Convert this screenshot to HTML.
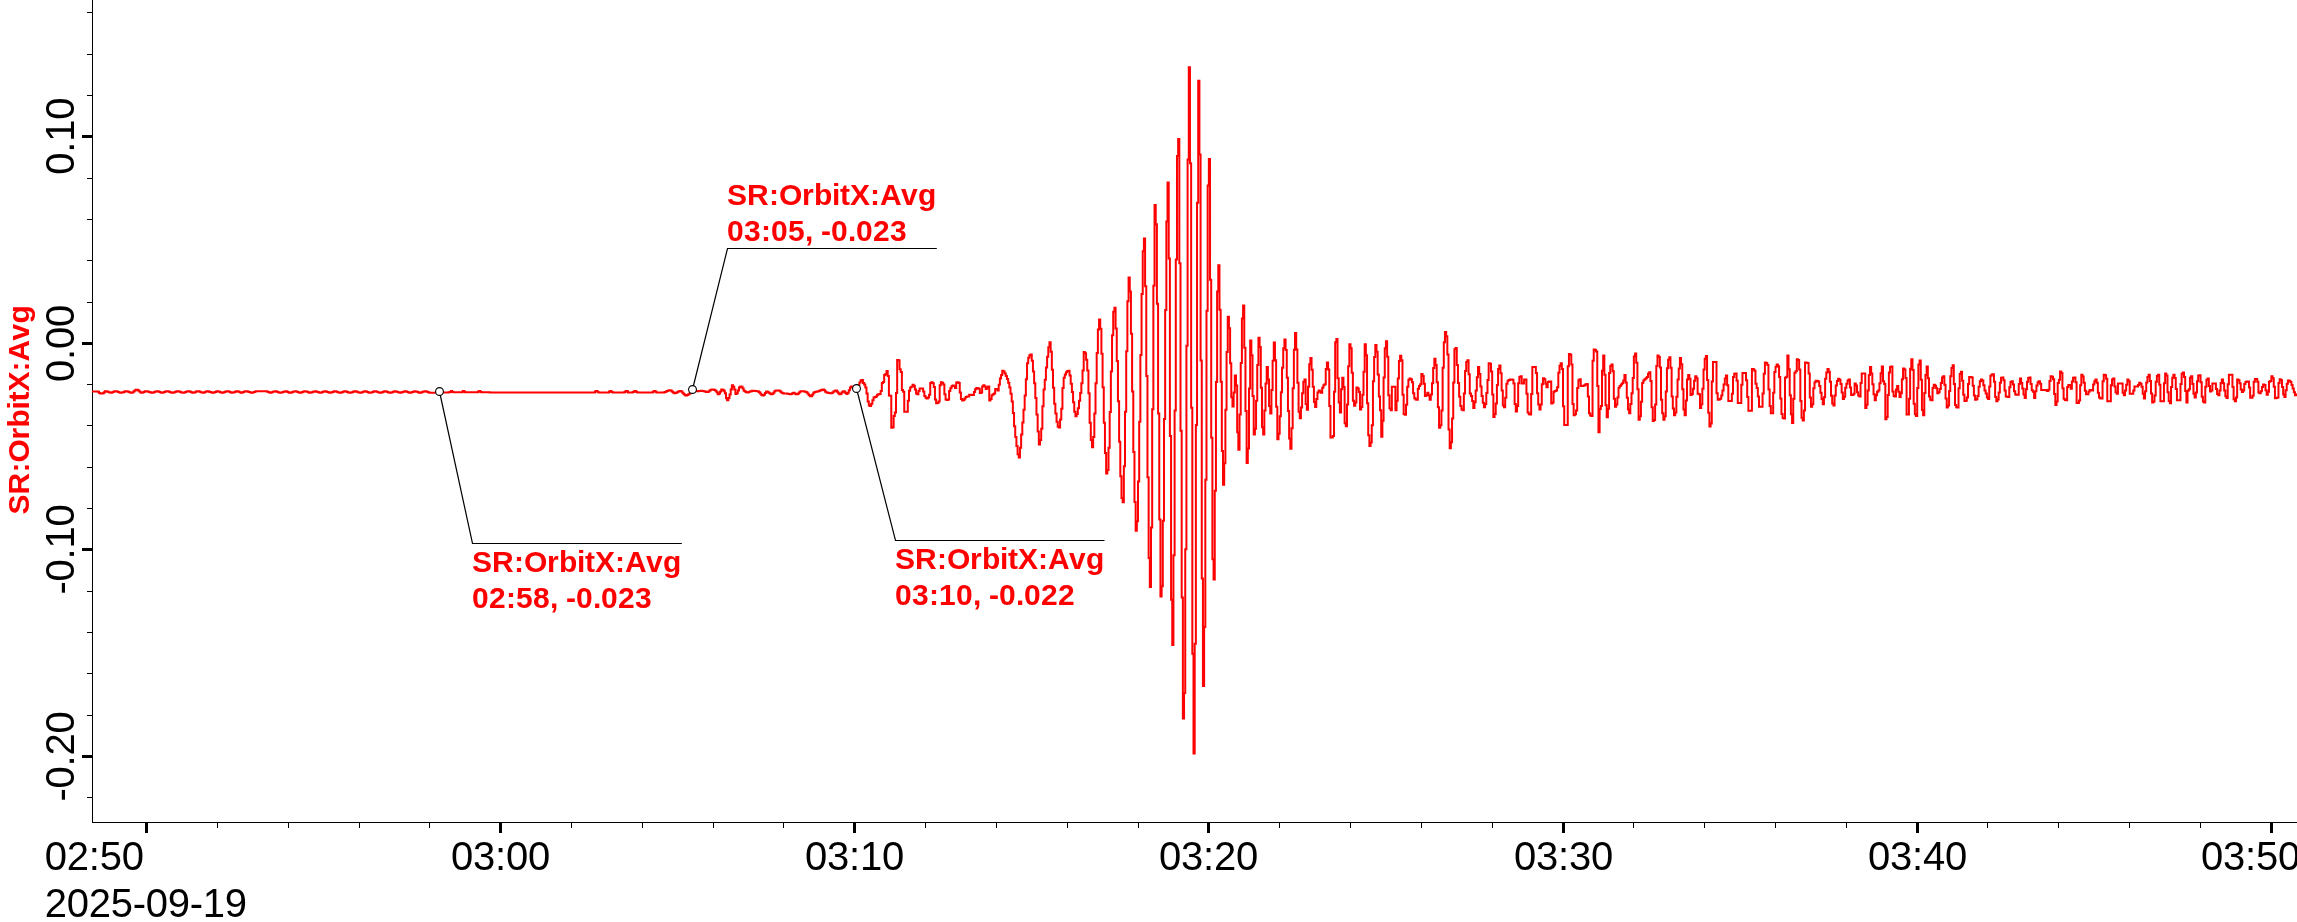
<!DOCTYPE html>
<html><head><meta charset="utf-8"><style>
html,body{margin:0;padding:0;background:#fff;overflow:hidden}
svg{display:block;will-change:transform}
.ax{font-family:"Liberation Sans",sans-serif;font-size:40px;fill:#000}
.an{font-family:"Liberation Sans",sans-serif;font-size:30px;font-weight:bold;fill:#f00}
</style></head><body>
<svg width="2297" height="922" viewBox="0 0 2297 922">
<rect x="92" y="0" width="1" height="823" fill="#000"/>
<rect x="92" y="822" width="2205" height="1" fill="#000"/>
<rect x="87" y="12" width="5" height="1" fill="#000"/>
<rect x="87" y="54" width="5" height="1" fill="#000"/>
<rect x="87" y="95" width="5" height="1" fill="#000"/>
<rect x="82" y="135" width="10" height="3" fill="#000"/>
<rect x="87" y="178" width="5" height="1" fill="#000"/>
<rect x="87" y="219" width="5" height="1" fill="#000"/>
<rect x="87" y="260" width="5" height="1" fill="#000"/>
<rect x="87" y="302" width="5" height="1" fill="#000"/>
<rect x="82" y="342" width="10" height="3" fill="#000"/>
<rect x="87" y="384" width="5" height="1" fill="#000"/>
<rect x="87" y="425" width="5" height="1" fill="#000"/>
<rect x="87" y="467" width="5" height="1" fill="#000"/>
<rect x="87" y="508" width="5" height="1" fill="#000"/>
<rect x="82" y="548" width="10" height="3" fill="#000"/>
<rect x="87" y="591" width="5" height="1" fill="#000"/>
<rect x="87" y="632" width="5" height="1" fill="#000"/>
<rect x="87" y="673" width="5" height="1" fill="#000"/>
<rect x="87" y="715" width="5" height="1" fill="#000"/>
<rect x="82" y="755" width="10" height="3" fill="#000"/>
<rect x="87" y="797" width="5" height="1" fill="#000"/>
<rect x="145" y="823" width="3" height="10" fill="#000"/>
<rect x="217" y="823" width="1" height="5" fill="#000"/>
<rect x="288" y="823" width="1" height="5" fill="#000"/>
<rect x="359" y="823" width="1" height="5" fill="#000"/>
<rect x="429" y="823" width="1" height="5" fill="#000"/>
<rect x="499" y="823" width="3" height="10" fill="#000"/>
<rect x="571" y="823" width="1" height="5" fill="#000"/>
<rect x="642" y="823" width="1" height="5" fill="#000"/>
<rect x="713" y="823" width="1" height="5" fill="#000"/>
<rect x="783" y="823" width="1" height="5" fill="#000"/>
<rect x="853" y="823" width="3" height="10" fill="#000"/>
<rect x="925" y="823" width="1" height="5" fill="#000"/>
<rect x="996" y="823" width="1" height="5" fill="#000"/>
<rect x="1067" y="823" width="1" height="5" fill="#000"/>
<rect x="1138" y="823" width="1" height="5" fill="#000"/>
<rect x="1207" y="823" width="3" height="10" fill="#000"/>
<rect x="1279" y="823" width="1" height="5" fill="#000"/>
<rect x="1350" y="823" width="1" height="5" fill="#000"/>
<rect x="1421" y="823" width="1" height="5" fill="#000"/>
<rect x="1492" y="823" width="1" height="5" fill="#000"/>
<rect x="1562" y="823" width="3" height="10" fill="#000"/>
<rect x="1633" y="823" width="1" height="5" fill="#000"/>
<rect x="1704" y="823" width="1" height="5" fill="#000"/>
<rect x="1775" y="823" width="1" height="5" fill="#000"/>
<rect x="1846" y="823" width="1" height="5" fill="#000"/>
<rect x="1916" y="823" width="3" height="10" fill="#000"/>
<rect x="1987" y="823" width="1" height="5" fill="#000"/>
<rect x="2058" y="823" width="1" height="5" fill="#000"/>
<rect x="2129" y="823" width="1" height="5" fill="#000"/>
<rect x="2200" y="823" width="1" height="5" fill="#000"/>
<rect x="2270" y="823" width="3" height="10" fill="#000"/>
<g transform="translate(74 136.3) rotate(-90)"><text x="-38.50 -16.50 -5.50 16.50" y="0" class="ax">0.10</text></g>
<g transform="translate(74 343.5) rotate(-90)"><text x="-38.50 -16.50 -5.50 16.50" y="0" class="ax">0.00</text></g>
<g transform="translate(74 549.5) rotate(-90)"><text x="-45.00 -32.00 -10.00 1.00 23.00" y="0" class="ax">-0.10</text></g>
<g transform="translate(74 756.5) rotate(-90)"><text x="-45.00 -32.00 -10.00 1.00 23.00" y="0" class="ax">-0.20</text></g>
<g transform="translate(28.6 410) rotate(-90)"><text x="-104.50 -84.50 -62.50 -52.50 -29.50 -17.50 0.50 8.50 18.50 38.50 48.50 69.50 86.50" y="0" class="an">SR:OrbitX:Avg</text></g>
<text x="451.00 473.00 495.00 506.00 528.00" y="870" class="ax">03:00</text>
<text x="805.00 827.00 849.00 860.00 882.00" y="870" class="ax">03:10</text>
<text x="1159.00 1181.00 1203.00 1214.00 1236.00" y="870" class="ax">03:20</text>
<text x="1514.00 1536.00 1558.00 1569.00 1591.00" y="870" class="ax">03:30</text>
<text x="1868.00 1890.00 1912.00 1923.00 1945.00" y="870" class="ax">03:40</text>
<text x="2200.90 2222.90 2244.90 2255.90 2277.90" y="870" class="ax">03:50</text>
<text x="44.70 66.70 88.70 99.70 121.70" y="870" class="ax">02:50</text>
<text x="44.70 66.70 88.70 110.70 132.70 145.70 167.70 189.70 202.70 224.70" y="917" class="ax">2025-09-19</text>
<path d="M92.00 391.40H93.18V391.40H94.36V391.40H95.54V391.40H96.72V391.40H97.90V391.80H99.08V392.92H100.26V393.60H101.44V393.51H102.63V393.26H103.81V392.17H104.99V391.20H106.17V391.35H107.35V391.75H108.53V392.22H109.71V392.59H110.89V392.70H112.07V392.32H113.25V391.75H114.43V391.29H115.61V391.20H116.79V391.59H117.97V392.09H119.15V392.54H120.33V392.70H121.51V392.52H122.70V392.14H123.88V391.70H125.06V391.34H126.24V391.20H127.42V391.42H128.60V391.88H129.78V392.38H130.96V392.70H132.14V392.47H133.32V391.59H134.50V390.53H135.68V389.70H136.86V389.84H138.04V390.59H139.22V391.61H140.40V392.46H141.59V392.70H142.77V392.35H143.95V391.81H145.13V391.34H146.31V391.20H147.49V391.46H148.67V391.90H149.85V392.35H151.03V392.70H152.21V392.64H153.39V392.30H154.57V391.81H155.75V391.38H156.93V391.20H158.11V391.46H159.29V392.00H160.47V392.51H161.66V392.70H162.84V392.43H164.02V391.92H165.20V391.43H166.38V391.20H167.56V391.37H168.74V391.78H169.92V392.26H171.10V392.61H172.28V392.70H173.46V392.38H174.64V391.89H175.82V391.43H177.00V391.20H178.18V391.36H179.36V391.77H180.54V392.25H181.73V392.62H182.91V392.70H184.09V392.38H185.27V391.90H186.45V391.44H187.63V391.20H188.81V391.35H189.99V391.79H191.17V392.30H192.35V392.70H193.53V392.61H194.71V392.13H195.89V391.53H197.07V391.20H198.25V391.33H199.43V391.71H200.62V392.17H201.80V392.55H202.98V392.70H204.16V392.33H205.34V391.67H206.52V391.20H207.70V391.30H208.88V391.65H210.06V392.11H211.24V392.51H212.42V392.70H213.60V392.50H214.78V392.01H215.96V391.48H217.14V391.20H218.32V391.38H219.50V391.88H220.69V392.41H221.87V392.70H223.05V392.52H224.23V392.03H225.41V391.51H226.59V391.20H227.77V391.36H228.95V391.83H230.13V392.36H231.31V392.70H232.49V392.58H233.67V392.18H234.85V391.67H236.03V391.29H237.21V391.20H238.39V391.65H239.57V392.24H240.76V392.70H241.94V392.58H243.12V392.07H244.30V391.49H245.48V391.20H246.66V391.34H247.84V391.69H249.02V392.12H250.20V392.50H251.38V392.70H252.56V392.53H253.74V392.03H254.92V391.51H256.10V391.30H257.28V391.30H258.46V391.30H259.65V391.30H260.83V391.30H262.01V391.30H263.19V391.30H264.37V391.30H265.55V391.30H266.73V391.57H267.91V392.10H269.09V392.58H270.27V392.70H271.45V392.36H272.63V391.86H273.81V391.43H274.99V391.30H276.17V391.57H277.35V392.02H278.53V392.46H279.72V392.70H280.90V392.57H282.08V392.19H283.26V391.73H284.44V391.38H285.62V391.30H286.80V391.70H287.98V392.24H289.16V392.70H290.34V392.64H291.52V392.28H292.70V391.79H293.88V391.40H295.06V391.30H296.24V391.62H297.42V392.09H298.60V392.53H299.79V392.70H300.97V392.48H302.15V392.02H303.33V391.56H304.51V391.30H305.69V391.44H306.87V391.86H308.05V392.34H309.23V392.70H310.41V392.62H311.59V392.25H312.77V391.76H313.95V391.38H315.13V391.30H316.31V391.64H317.49V392.12H318.68V392.55H319.86V392.70H321.04V392.45H322.22V391.99H323.40V391.54H324.58V391.30H325.76V391.46H326.94V391.89H328.12V392.37H329.30V392.70H330.48V392.61H331.66V392.22H332.84V391.74H334.02V391.37H335.20V391.30H336.38V391.67H337.56V392.15H338.75V392.57H339.93V392.70H341.11V392.43H342.29V391.96H343.47V391.51H344.65V391.30H345.83V391.48H347.01V391.92H348.19V392.39H349.37V392.70H350.55V392.59H351.73V392.19H352.91V391.71H354.09V391.36H355.27V391.30H356.45V391.70H357.63V392.18H358.82V392.58H360.00V392.70H361.18V392.41H362.36V391.93H363.54V391.49H364.72V391.30H365.90V391.50H367.08V391.95H368.26V392.42H369.44V392.70H370.62V392.57H371.80V392.17H372.98V391.68H374.16V391.30H375.34V391.36H376.52V391.72H377.71V392.21H378.89V392.60H380.07V392.70H381.25V392.38H382.43V391.90H383.61V391.47H384.79V391.30H385.97V391.52H387.15V391.98H388.33V392.44H389.51V392.70H390.69V392.56H391.87V392.14H393.05V391.66H394.23V391.30H395.41V391.38H396.59V391.75H397.78V392.24H398.96V392.62H400.14V392.70H401.32V392.36H402.50V391.88H403.68V391.45H404.86V391.30H406.04V391.55H407.22V392.01H408.40V392.47H409.58V392.70H410.76V392.54H411.94V392.11H413.12V391.63H414.30V391.30H415.48V391.39H416.66V391.78H417.85V392.27H419.03V392.63H420.21V392.70H421.39V392.33H422.57V391.85H423.75V391.43H424.93V391.30H426.11V391.57H427.29V392.04H428.47V392.49H429.65V392.70H430.83V392.70H432.01V392.70H433.19V392.69H434.37V392.69H435.55V392.68H436.74V392.67H437.92V392.65H439.10V392.63H440.28V392.61H441.46V392.59H442.64V392.56H443.82V392.52H445.00V392.48H446.18V392.43H447.36V392.38H448.54V392.32H449.72V391.90H450.90V391.00H452.08V391.73H453.26V392.30H454.44V392.30H455.62V392.30H456.81V392.30H457.99V392.30H459.17V392.30H460.35V392.30H461.53V392.30H462.71V391.00H463.89V391.54H465.07V392.30H466.25V392.30H467.43V392.30H468.61V392.30H469.79V392.30H470.97V392.30H472.15V392.30H473.33V392.30H474.51V392.30H475.69V392.30H476.88V392.30H478.06V391.60H479.24V391.00H480.42V392.03H481.60V392.31H482.78V392.32H483.96V392.34H485.14V392.35H486.32V392.36H487.50V392.37H488.68V392.37H489.86V392.38H491.04V392.39H492.22V392.39H493.40V392.39H494.58V392.40H495.77V392.40H496.95V392.40H498.13V392.40H499.31V392.40H500.49V392.40H501.67V392.40H502.85V392.40H504.03V392.40H505.21V392.40H506.39V392.40H507.57V392.40H508.75V392.40H509.93V392.40H511.11V392.40H512.29V392.40H513.47V392.40H514.65V392.40H515.84V392.40H517.02V392.40H518.20V392.40H519.38V392.40H520.56V392.40H521.74V392.40H522.92V392.40H524.10V392.40H525.28V392.40H526.46V392.40H527.64V392.40H528.82V392.40H530.00V392.40H531.18V392.40H532.36V392.40H533.54V392.40H534.72V392.40H535.91V392.40H537.09V392.40H538.27V392.40H539.45V392.40H540.63V392.40H541.81V392.40H542.99V392.40H544.17V392.40H545.35V392.40H546.53V392.40H547.71V392.40H548.89V392.40H550.07V392.40H551.25V392.40H552.43V392.40H553.61V392.40H554.80V392.40H555.98V392.40H557.16V392.40H558.34V392.40H559.52V392.40H560.70V392.40H561.88V392.40H563.06V392.40H564.24V392.40H565.42V392.40H566.60V392.40H567.78V392.40H568.96V392.40H570.14V392.40H571.32V392.40H572.50V392.40H573.68V392.40H574.87V392.40H576.05V392.40H577.23V392.40H578.41V392.40H579.59V392.40H580.77V392.40H581.95V392.40H583.13V392.40H584.31V392.40H585.49V392.40H586.67V392.40H587.85V392.40H589.03V392.40H590.21V392.40H591.39V392.40H592.57V392.40H593.75V392.40H594.94V391.55H596.12V391.00H597.30V391.74H598.48V392.40H599.66V392.40H600.84V392.40H602.02V392.40H603.20V392.40H604.38V392.40H605.56V392.40H606.74V392.40H607.92V392.40H609.10V391.41H610.28V391.00H611.46V391.88H612.64V392.40H613.83V392.40H615.01V392.40H616.19V392.40H617.37V392.40H618.55V392.40H619.73V392.40H620.91V392.40H622.09V392.40H623.27V392.40H624.45V391.95H625.63V391.00H626.81V391.35H627.99V392.40H629.17V392.40H630.35V392.40H631.53V392.40H632.71V392.12H633.90V391.21H635.08V391.00H636.26V392.10H637.44V392.40H638.62V392.40H639.80V392.40H640.98V392.40H642.16V392.40H643.34V392.40H644.52V392.40H645.70V392.40H646.88V392.40H648.06V392.40H649.24V392.40H650.42V392.40H651.60V392.40H652.78V391.67H653.97V391.00H655.15V391.61H656.33V392.40H657.51V392.40H658.69V392.40H659.87V392.40H661.05V392.40H662.23V392.40H663.41V392.40H664.59V392.06H665.77V391.52H666.95V390.92H668.13V390.42H669.31V390.20H670.49V390.54H671.67V391.42H672.86V392.41H674.04V393.20H675.22V393.11H676.40V392.57H677.58V391.80H678.76V391.14H679.94V390.90H681.12V391.51H682.30V392.74H683.48V394.11H684.66V395.14H685.84V395.40H687.02V395.02H688.20V394.34H689.38V393.45H690.56V391.91H691.74V389.70H692.93V389.20H694.11V389.87H695.29V390.65H696.47V391.20H697.65V391.17H698.83V391.04H700.01V390.90H701.19V390.80H702.37V390.88H703.55V391.19H704.73V391.57H705.91V391.89H707.09V392.00H708.27V391.46H709.45V390.53H710.63V389.68H711.81V389.40H713.00V389.60H714.18V390.04H715.36V390.66H716.54V392.27H717.72V394.30H718.90V393.53H720.08V391.54H721.26V389.60H722.44V389.79H723.62V390.87H724.80V393.17H725.98V398.16H727.16V400.20H728.34V397.92H729.52V394.41H730.70V389.51H731.89V385.30H733.07V386.66H734.25V389.43H735.43V393.90H736.61V393.29H737.79V390.51H738.97V387.52H740.15V386.50H741.33V386.87H742.51V388.55H743.69V390.70H744.87V391.61H746.05V392.24H747.23V392.40H748.41V392.10H749.59V391.62H750.77V391.14H751.96V390.80H753.14V390.82H754.32V390.91H755.50V391.08H756.68V391.31H757.86V391.59H759.04V392.34H760.22V393.66H761.40V394.92H762.58V395.50H763.76V394.67H764.94V392.97H766.12V391.60H767.30V391.81H768.48V392.64H769.66V393.62H770.84V394.30H772.03V393.98H773.21V392.77H774.39V391.35H775.57V390.40H776.75V390.44H777.93V390.59H779.11V390.83H780.29V391.71H781.47V392.84H782.65V393.26H783.83V393.38H785.01V393.45H786.19V393.52H787.37V393.69H788.55V394.03H789.73V394.30H790.92V393.98H792.10V393.17H793.28V392.80H794.46V393.38H795.64V394.13H796.82V394.30H798.00V393.38H799.18V392.24H800.36V391.36H801.54V391.20H802.72V391.33H803.90V391.54H805.08V391.83H806.26V392.30H807.44V393.53H808.62V395.04H809.80V396.13H810.99V396.30H812.17V394.60H813.35V392.83H814.53V391.93H815.71V391.65H816.89V391.46H818.07V391.23H819.25V390.84H820.43V390.30H821.61V389.83H822.79V389.60H823.97V390.26H825.15V391.67H826.33V392.47H827.51V392.78H828.69V393.02H829.87V393.16H831.06V393.20H832.24V392.58H833.42V391.56H834.60V390.67H835.78V390.40H836.96V391.63H838.14V393.34H839.32V394.30H840.50V393.70H841.68V392.36H842.86V391.20H844.04V391.59H845.22V393.03H846.40V393.90H847.58V392.73H848.76V390.17H849.95V387.62H851.13V386.50H852.31V386.78H853.49V387.40H854.67V388.07H855.85V388.50H857.03V387.70H858.21V384.96H859.39V382.46H860.57V380.60H861.75V380.10H862.93V383.04H864.11V384.39H865.29V387.57H866.47V393.48H867.65V401.49H868.83V405.49H870.02V406.00H871.20V403.63H872.38V400.16H873.56V397.55H874.74V396.97H875.92V396.46H877.10V394.80H878.28V394.14H879.46V394.00H880.64V391.08H881.82V382.96H883.00V381.89H884.18V375.04H885.36V374.09H886.54V370.90H887.72V376.05H888.90V395.50H890.09V395.83H891.27V427.70H892.45V427.28H893.63V416.11H894.81V412.41H895.99V393.09H897.17V360.00H898.35V360.24H899.53V369.29H900.71V372.09H901.89V390.06H903.07V391.71H904.25V411.80H905.43V411.80H906.61V411.80H907.79V400.85H908.98V390.73H910.16V387.62H911.34V386.86H912.52V384.70H913.70V385.87H914.88V389.40H916.06V393.49H917.24V394.30H918.42V390.88H919.60V388.50H920.78V388.50H921.96V388.50H923.14V391.54H924.32V395.94H925.50V397.63H926.68V398.40H927.86V397.38H929.05V394.75H930.23V382.93H931.41V382.30H932.59V383.20H933.77V386.89H934.95V399.40H936.13V403.30H937.31V402.98H938.49V401.56H939.67V385.31H940.85V382.30H942.03V382.74H943.21V384.61H944.39V394.15H945.57V399.44H946.75V400.00H947.93V399.58H949.12V391.04H950.30V388.19H951.48V386.17H952.66V385.60H953.84V386.21H955.02V388.10H956.20V382.62H957.38V382.30H958.56V383.12H959.74V392.38H960.92V399.01H962.10V400.40H963.28V400.04H964.46V398.45H965.64V396.89H966.82V396.54H968.01V396.46H969.19V394.70H970.37V394.77H971.55V395.00H972.73V395.10H973.91V392.12H975.09V389.13H976.27V388.10H977.45V388.27H978.63V388.83H979.81V393.00H980.99V392.47H982.17V386.45H983.35V385.20H984.53V386.50H985.71V388.90H986.89V387.39H988.08V386.40H989.26V400.40H990.44V399.03H991.62V395.23H992.80V394.19H993.98V393.43H995.16V389.03H996.34V388.90H997.52V390.50H998.70V384.72H999.88V378.42H1001.06V375.05H1002.24V370.70H1003.42V371.58H1004.60V373.56H1005.78V375.88H1006.96V379.00H1008.15V382.86H1009.33V387.51H1010.51V393.68H1011.69V401.60H1012.87V412.98H1014.05V426.14H1015.23V437.08H1016.41V446.00H1017.59V454.32H1018.77V457.60H1019.95V447.82H1021.13V434.41H1022.31V422.54H1023.49V409.77H1024.67V395.50H1025.85V379.33H1027.04V363.20H1028.22V357.82H1029.40V355.19H1030.58V354.40H1031.76V360.73H1032.94V371.53H1034.12V383.31H1035.30V397.97H1036.48V414.58H1037.66V431.56H1038.84V444.60H1040.02V439.90H1041.20V428.64H1042.38V406.22H1043.56V389.44H1044.74V379.85H1045.92V367.62H1047.11V356.79H1048.29V347.27H1049.47V342.20H1050.65V351.81H1051.83V369.75H1053.01V387.67H1054.19V403.81H1055.37V413.50H1056.55V421.67H1057.73V426.74H1058.91V427.60H1060.09V419.60H1061.27V408.63H1062.45V388.08H1063.63V377.75H1064.81V374.60H1065.99V372.37H1067.18V371.06H1068.36V370.70H1069.54V375.45H1070.72V383.85H1071.90V391.96H1073.08V402.19H1074.26V411.72H1075.44V416.20H1076.62V413.99H1077.80V408.15H1078.98V400.63H1080.16V392.95H1081.34V383.36H1082.52V370.41H1083.70V352.00H1084.88V353.34H1086.07V359.83H1087.25V370.54H1088.43V393.25H1089.61V422.84H1090.79V440.12H1091.97V447.20H1093.15V437.02H1094.33V413.42H1095.51V383.13H1096.69V352.90H1097.87V329.48H1099.05V319.60H1100.23V328.83H1101.41V353.69H1102.59V387.26H1103.77V422.64H1104.95V452.88H1106.14V473.50H1107.32V470.07H1108.50V447.68H1109.68V411.90H1110.86V371.49H1112.04V335.22H1113.22V311.87H1114.40V307.70H1115.58V328.38H1116.76V361.09H1117.94V401.13H1119.12V441.79H1120.30V476.35H1121.48V498.10H1122.66V502.20H1123.84V466.32H1125.02V411.72H1126.21V351.31H1127.39V301.24H1128.57V277.40H1129.75V291.55H1130.93V333.80H1132.11V391.55H1133.29V451.92H1134.47V502.07H1135.65V530.80H1136.83V521.32H1138.01V481.38H1139.19V421.74H1140.37V355.06H1141.55V293.98H1142.73V251.15H1143.91V238.50H1145.10V286.25H1146.28V376.00H1147.46V477.19H1148.64V557.97H1149.82V586.90H1151.00V527.38H1152.18V409.29H1153.36V285.70H1154.54V205.00H1155.72V224.35H1156.90V303.79H1158.08V413.48H1159.26V519.38H1160.44V596.60H1161.62V586.21H1162.80V520.67H1163.98V419.08H1165.17V309.90H1166.35V221.58H1167.53V182.40H1168.71V258.62H1169.89V435.91H1171.07V599.79H1172.25V645.00H1173.43V555.24H1174.61V410.60H1175.79V259.57H1176.97V156.10H1178.15V139.00H1179.33V263.24H1180.51V430.73H1181.69V597.56H1182.87V718.50H1184.05V692.99H1185.24V549.29H1186.42V345.71H1187.60V159.57H1188.78V67.20H1189.96V163.19H1191.14V407.79H1192.32V653.83H1193.50V753.60H1194.68V643.84H1195.86V425.07H1197.04V202.80H1198.22V80.80H1199.40V154.54H1200.58V360.41H1201.76V578.40H1202.94V686.00H1204.13V626.89H1205.31V479.80H1206.49V310.64H1207.67V185.49H1208.85V159.00H1210.03V279.72H1211.21V437.81H1212.39V559.14H1213.57V579.40H1214.75V490.85H1215.93V382.12H1217.11V291.51H1218.29V265.30H1219.47V309.65H1220.65V381.73H1221.83V450.95H1223.01V484.80H1224.20V463.37H1225.38V409.73H1226.56V351.94H1227.74V316.80H1228.92V328.27H1230.10V363.24H1231.28V397.15H1232.46V406.50H1233.64V392.50H1234.82V375.40H1236.00V385.50H1237.18V432.34H1238.36V449.80H1239.54V414.62H1240.72V363.08H1241.90V318.61H1243.08V305.40H1244.27V347.84H1245.45V411.00H1246.63V463.00H1247.81V448.53H1248.99V388.59H1250.17V340.50H1251.35V355.17H1252.53V395.99H1253.71V434.50H1254.89V428.84H1256.07V400.68H1257.25V365.05H1258.43V337.70H1259.61V347.11H1260.79V387.83H1261.97V427.14H1263.16V434.50H1264.34V410.42H1265.52V383.54H1266.70V367.10H1267.88V379.39H1269.06V406.03H1270.24V413.60H1271.42V390.01H1272.60V360.86H1273.78V342.40H1274.96V360.29H1276.14V406.78H1277.32V439.20H1278.50V433.65H1279.68V416.17H1280.86V392.30H1282.04V367.76H1283.23V348.30H1284.41V339.60H1285.59V349.98H1286.77V377.65H1287.95V411.06H1289.13V438.58H1290.31V448.70H1291.49V428.13H1292.67V388.31H1293.85V349.72H1295.03V333.00H1296.21V349.51H1297.39V382.84H1298.57V411.81H1299.75V418.30H1300.93V407.46H1302.11V393.15H1303.30V381.76H1304.48V379.40H1305.66V404.00H1306.84V409.80H1308.02V386.67H1309.20V364.24H1310.38V358.00H1311.56V369.73H1312.74V386.84H1313.92V401.91H1315.10V407.00H1316.28V399.05H1317.46V392.44H1318.64V390.60H1319.82V391.52H1321.00V392.80H1322.19V387.64H1323.37V385.21H1324.55V384.34H1325.73V369.03H1326.91V362.50H1328.09V369.43H1329.27V406.10H1330.45V437.60H1331.63V437.42H1332.81V436.10H1333.99V391.82H1335.17V342.13H1336.35V339.00H1337.53V378.37H1338.71V402.43H1339.89V412.60H1341.07V389.15H1342.26V377.70H1343.44V387.03H1344.62V423.27H1345.80V426.20H1346.98V404.42H1348.16V366.30H1349.34V344.30H1350.52V348.18H1351.70V372.73H1352.88V400.78H1354.06V405.70H1355.24V402.53H1356.42V387.50H1357.60V388.45H1358.78V391.96H1359.96V409.50H1361.14V406.90H1362.33V394.65H1363.51V371.79H1364.69V344.30H1365.87V355.30H1367.05V403.24H1368.23V435.29H1369.41V446.00H1370.59V442.54H1371.77V425.18H1372.95V381.22H1374.13V357.10H1375.31V345.00H1376.49V351.75H1377.67V374.39H1378.85V396.47H1380.03V410.21H1381.22V436.80H1382.40V420.74H1383.58V377.55H1384.76V348.36H1385.94V341.20H1387.12V356.76H1388.30V395.32H1389.48V408.36H1390.66V410.30H1391.84V386.80H1393.02V386.80H1394.20V386.80H1395.38V410.30H1396.56V400.76H1397.74V378.61H1398.92V361.10H1400.10V355.70H1401.29V360.16H1402.47V394.76H1403.65V414.11H1404.83V414.80H1406.01V404.75H1407.19V386.80H1408.37V379.86H1409.55V378.40H1410.73V379.19H1411.91V382.17H1413.09V393.28H1414.27V398.17H1415.45V399.48H1416.63V399.70H1417.81V388.87H1418.99V386.12H1420.17V384.33H1421.36V373.90H1422.54V376.06H1423.72V383.81H1424.90V395.90H1426.08V394.89H1427.26V392.80H1428.44V395.50H1429.62V399.70H1430.80V394.38H1431.98V383.28H1433.16V367.90H1434.34V358.70H1435.52V364.96H1436.70V382.25H1437.88V407.32H1439.06V427.70H1440.25V425.16H1441.43V410.56H1442.61V367.70H1443.79V342.27H1444.97V332.10H1446.15V336.25H1447.33V354.53H1448.51V429.41H1449.69V448.20H1450.87V442.14H1452.05V418.49H1453.23V382.54H1454.41V349.21H1455.59V348.10H1456.77V365.07H1457.95V383.05H1459.13V396.63H1460.32V406.08H1461.50V409.45H1462.68V410.30H1463.86V393.45H1465.04V371.04H1466.22V361.96H1467.40V360.20H1468.58V374.18H1469.76V393.46H1470.94V396.02H1472.12V401.01H1473.30V408.00H1474.48V402.16H1475.66V390.52H1476.84V377.31H1478.02V367.00H1479.20V373.97H1480.39V386.49H1481.57V396.00H1482.75V402.67H1483.93V407.30H1485.11V403.90H1486.29V392.96H1487.47V379.89H1488.65V363.20H1489.83V363.83H1491.01V371.47H1492.19V394.40H1493.37V417.10H1494.55V414.09H1495.73V403.49H1496.91V385.01H1498.09V368.97H1499.28V365.50H1500.46V373.33H1501.64V390.44H1502.82V405.42H1504.00V407.30H1505.18V397.84H1506.36V383.80H1507.54V380.80H1508.72V379.90H1509.90V379.50H1511.08V379.56H1512.26V379.86H1513.44V383.56H1514.62V404.09H1515.80V411.40H1516.98V406.06H1518.16V383.36H1519.35V377.12H1520.53V376.20H1521.71V383.40H1522.89V383.40H1524.07V379.50H1525.25V379.50H1526.43V393.64H1527.61V412.50H1528.79V414.15H1529.97V414.40H1531.15V394.08H1532.33V367.10H1533.51V367.10H1534.69V367.10H1535.87V372.91H1537.05V393.33H1538.23V404.40H1539.42V409.40H1540.60V404.59H1541.78V384.31H1542.96V378.20H1544.14V379.21H1545.32V383.74H1546.50V387.30H1547.68V381.90H1548.86V381.51H1550.04V381.40H1551.22V403.60H1552.40V402.44H1553.58V391.83H1554.76V390.98H1555.94V390.45H1557.12V387.33H1558.31V372.68H1559.49V365.74H1560.67V363.20H1561.85V368.96H1563.03V406.27H1564.21V425.10H1565.39V425.10H1566.57V425.10H1567.75V366.15H1568.93V354.10H1570.11V354.74H1571.29V364.62H1572.47V404.12H1573.65V415.30H1574.83V414.22H1576.01V410.62H1577.19V388.02H1578.38V380.30H1579.56V379.20H1580.74V386.00H1581.92V386.00H1583.10V385.87H1584.28V385.13H1585.46V384.29H1586.64V384.00H1587.82V396.56H1589.00V413.30H1590.18V415.51H1591.36V415.90H1592.54V360.87H1593.72V349.50H1594.90V350.02H1596.08V351.47H1597.26V385.91H1598.45V432.20H1599.63V409.04H1600.81V406.11H1601.99V370.77H1603.17V355.40H1604.35V374.86H1605.53V405.36H1606.71V417.20H1607.89V408.70H1609.07V373.01H1610.25V365.97H1611.43V364.50H1612.61V371.35H1613.79V398.81H1614.97V406.80H1616.15V404.60H1617.34V397.62H1618.52V387.80H1619.70V385.95H1620.88V384.60H1622.06V383.26H1623.24V380.42H1624.42V374.90H1625.60V382.40H1626.78V397.73H1627.96V409.42H1629.14V413.30H1630.32V404.08H1631.50V393.25H1632.68V378.06H1633.86V356.46H1635.04V353.40H1636.22V362.81H1637.41V389.19H1638.59V419.80H1639.77V416.29H1640.95V401.64H1642.13V383.10H1643.31V380.44H1644.49V379.29H1645.67V378.24H1646.85V376.97H1648.03V373.68H1649.21V372.30H1650.39V381.04H1651.57V407.26H1652.75V421.10H1653.93V419.92H1655.11V404.47H1656.29V365.99H1657.48V355.40H1658.66V357.04H1659.84V367.47H1661.02V399.77H1662.20V413.29H1663.38V419.80H1664.56V416.34H1665.74V391.43H1666.92V368.28H1668.10V359.76H1669.28V357.30H1670.46V367.85H1671.64V396.56H1672.82V408.42H1674.00V415.30H1675.18V412.39H1676.37V396.78H1677.55V379.58H1678.73V368.44H1679.91V358.00H1681.09V364.23H1682.27V389.25H1683.45V409.40H1684.63V415.30H1685.81V400.55H1686.99V379.49H1688.17V374.90H1689.35V378.75H1690.53V395.10H1691.71V394.06H1692.89V388.79H1694.07V380.87H1695.25V376.20H1696.44V378.29H1697.62V393.81H1698.80V394.17H1699.98V408.10H1701.16V404.13H1702.34V388.76H1703.52V369.55H1704.70V358.86H1705.88V356.00H1707.06V379.96H1708.24V412.75H1709.42V426.40H1710.60V423.62H1711.78V381.42H1712.96V361.90H1714.14V361.90H1715.32V361.90H1716.51V393.31H1717.69V399.70H1718.87V399.40H1720.05V398.63H1721.23V395.45H1722.41V390.38H1723.59V384.43H1724.77V378.56H1725.95V375.60H1727.13V385.16H1728.31V401.00H1729.49V401.00H1730.67V401.00H1731.85V393.67H1733.03V377.00H1734.21V373.84H1735.40V373.60H1736.58V380.85H1737.76V402.90H1738.94V402.90H1740.12V402.90H1741.30V384.84H1742.48V373.00H1743.66V373.00H1744.84V373.00H1746.02V380.29H1747.20V396.90H1748.38V410.70H1749.56V410.70H1750.74V410.70H1751.92V369.10H1753.10V369.30H1754.28V370.86H1755.47V383.83H1756.65V387.88H1757.83V396.48H1759.01V406.80H1760.19V406.80H1761.37V406.80H1762.55V393.43H1763.73V373.77H1764.91V362.60H1766.09V362.94H1767.27V365.12H1768.45V389.49H1769.63V406.03H1770.81V413.30H1771.99V413.30H1773.17V392.76H1774.35V371.97H1775.54V366.67H1776.72V364.50H1777.90V366.37H1779.08V376.90H1780.26V398.39H1781.44V413.90H1782.62V418.02H1783.80V418.50H1784.98V377.74H1786.16V376.67H1787.34V355.40H1788.52V369.37H1789.70V395.13H1790.88V414.34H1792.06V423.10H1793.24V398.84H1794.43V372.72H1795.61V371.22H1796.79V359.30H1797.97V360.02H1799.15V369.41H1800.33V400.89H1801.51V417.65H1802.69V420.50H1803.87V410.50H1805.05V362.60H1806.23V362.63H1807.41V362.92H1808.59V373.52H1809.77V397.40H1810.95V406.80H1812.13V404.31H1813.31V388.34H1814.50V382.13H1815.68V380.80H1816.86V380.99H1818.04V381.42H1819.22V386.07H1820.40V392.70H1821.58V398.95H1822.76V404.20H1823.94V397.17H1825.12V378.81H1826.30V372.40H1827.48V369.10H1828.66V371.80H1829.84V381.83H1831.02V395.75H1832.20V403.48H1833.38V405.50H1834.57V395.41H1835.75V385.38H1836.93V381.11H1838.11V378.80H1839.29V379.87H1840.47V384.09H1841.65V392.51H1842.83V399.00H1844.01V396.63H1845.19V387.76H1846.37V383.63H1847.55V380.55H1848.73V379.50H1849.91V387.38H1851.09V395.10H1852.27V394.92H1853.46V393.84H1854.64V383.40H1855.82V385.60H1857.00V392.17H1858.18V395.41H1859.36V396.40H1860.54V383.12H1861.72V373.60H1862.90V373.60H1864.08V373.60H1865.26V408.10H1866.44V404.86H1867.62V390.49H1868.80V374.88H1869.98V367.10H1871.16V373.62H1872.34V384.26H1873.53V394.21H1874.71V400.30H1875.89V395.36H1877.07V391.78H1878.25V390.43H1879.43V383.22H1880.61V373.17H1881.79V366.50H1882.97V381.30H1884.15V383.98H1885.33V419.20H1886.51V417.00H1887.69V394.98H1888.87V372.41H1890.05V367.09H1891.23V366.50H1892.41V391.55H1893.60V395.95H1894.78V396.40H1895.96V389.53H1897.14V386.00H1898.32V391.69H1899.50V397.10H1900.68V393.37H1901.86V379.16H1903.04V368.40H1904.22V369.47H1905.40V377.89H1906.58V414.60H1907.76V414.46H1908.94V398.74H1910.12V368.64H1911.30V359.30H1912.49V370.04H1913.67V403.64H1914.85V414.25H1916.03V415.90H1917.21V387.95H1918.39V364.40H1919.57V360.60H1920.75V379.66H1921.93V410.09H1923.11V415.30H1924.29V393.09H1925.47V374.96H1926.65V366.50H1927.83V378.20H1929.01V396.46H1930.19V399.83H1931.37V400.30H1932.56V387.88H1933.74V384.70H1934.92V385.70H1936.10V388.17H1937.28V393.20H1938.46V392.15H1939.64V389.11H1940.82V382.92H1942.00V377.48H1943.18V376.20H1944.36V384.77H1945.54V398.56H1946.72V407.50H1947.90V405.49H1949.08V390.91H1950.26V376.17H1951.44V368.09H1952.63V365.20H1953.81V383.96H1954.99V405.05H1956.17V407.28H1957.35V407.50H1958.53V388.20H1959.71V374.04H1960.89V371.70H1962.07V380.74H1963.25V394.80H1964.43V401.00H1965.61V400.80H1966.79V397.62H1967.97V383.96H1969.15V376.90H1970.33V377.00H1971.52V377.45H1972.70V385.65H1973.88V395.38H1975.06V399.70H1976.24V399.33H1977.42V396.00H1978.60V386.82H1979.78V381.32H1980.96V379.40H1982.14V380.62H1983.32V385.22H1984.50V390.51H1985.68V393.38H1986.86V397.45H1988.04V399.10H1989.22V386.38H1990.40V375.67H1991.59V374.61H1992.77V374.20H1993.95V381.76H1995.13V397.10H1996.31V401.30H1997.49V399.46H1998.67V392.39H1999.85V382.64H2001.03V377.78H2002.21V377.40H2003.39V380.34H2004.57V390.53H2005.75V396.49H2006.93V396.80H2008.11V396.90H2009.29V387.13H2010.47V382.08H2011.66V381.20H2012.84V384.61H2014.02V391.34H2015.20V394.41H2016.38V394.72H2017.56V394.80H2018.74V384.00H2019.92V378.50H2021.10V382.96H2022.28V388.55H2023.46V394.45H2024.64V398.00H2025.82V389.27H2027.00V381.72H2028.18V378.02H2029.36V377.40H2030.55V383.88H2031.73V390.34H2032.91V391.72H2034.09V398.00H2035.27V391.19H2036.45V385.46H2037.63V382.30H2038.81V381.20H2039.99V383.87H2041.17V389.90H2042.35V389.90H2043.53V389.90H2044.71V389.90H2045.89V390.25H2047.07V391.00H2048.25V389.74H2049.43V381.01H2050.62V376.30H2051.80V376.79H2052.98V379.31H2054.16V393.93H2055.34V405.10H2056.52V401.60H2057.70V383.09H2058.88V379.86H2060.06V371.50H2061.24V373.10H2062.42V388.22H2063.60V398.75H2064.78V399.92H2065.96V400.20H2067.14V387.08H2068.32V385.00H2069.50V385.35H2070.69V388.80H2071.87V381.47H2073.05V377.77H2074.23V377.40H2075.41V382.35H2076.59V402.90H2077.77V402.90H2078.95V400.57H2080.13V385.24H2081.31V374.70H2082.49V376.43H2083.67V382.79H2084.85V390.67H2086.03V394.20H2087.21V394.20H2088.39V391.67H2089.58V389.90H2090.76V390.23H2091.94V390.40H2093.12V384.47H2094.30V381.22H2095.48V379.60H2096.66V382.68H2097.84V392.66H2099.02V397.45H2100.20V398.42H2101.38V398.60H2102.56V381.37H2103.74V374.70H2104.92V375.27H2106.10V378.83H2107.28V401.30H2108.46V401.30H2109.65V401.30H2110.83V385.29H2112.01V379.48H2113.19V378.50H2114.37V386.40H2115.55V392.24H2116.73V393.70H2117.91V383.40H2119.09V383.40H2120.27V383.40H2121.45V383.40H2122.63V392.69H2123.81V395.30H2124.99V390.40H2126.17V384.70H2127.35V379.60H2128.53V381.13H2129.72V393.70H2130.90V393.70H2132.08V393.70H2133.26V390.43H2134.44V386.60H2135.62V386.60H2136.80V386.60H2137.98V385.06H2139.16V382.80H2140.34V383.64H2141.52V386.79H2142.70V393.73H2143.88V398.60H2145.06V391.17H2146.24V382.54H2147.42V377.06H2148.61V374.70H2149.79V381.08H2150.97V393.62H2152.15V402.40H2153.33V401.48H2154.51V395.45H2155.69V381.76H2156.87V375.98H2158.05V374.70H2159.23V384.75H2160.41V401.30H2161.59V401.30H2162.77V401.30H2163.95V383.18H2165.13V373.60H2166.31V375.39H2167.49V392.31H2168.68V401.01H2169.86V403.20H2171.04V387.11H2172.22V377.69H2173.40V374.70H2174.58V377.89H2175.76V388.94H2176.94V400.20H2178.12V400.20H2179.30V400.20H2180.48V383.97H2181.66V373.86H2182.84V372.50H2184.02V377.01H2185.20V391.04H2186.38V402.40H2187.56V390.64H2188.75V389.32H2189.93V377.78H2191.11V376.30H2192.29V384.10H2193.47V393.82H2194.65V397.50H2195.83V392.54H2197.01V381.32H2198.19V375.54H2199.37V375.20H2200.55V382.16H2201.73V396.71H2202.91V401.58H2204.09V402.40H2205.27V386.81H2206.45V379.64H2207.64V378.50H2208.82V386.09H2210.00V391.50H2211.18V390.44H2212.36V383.40H2213.54V383.40H2214.72V383.40H2215.90V388.96H2217.08V394.07H2218.26V395.30H2219.44V390.39H2220.62V382.99H2221.80V379.60H2222.98V383.13H2224.16V390.60H2225.34V396.24H2226.52V398.00H2227.71V384.19H2228.89V374.70H2230.07V374.70H2231.25V374.70H2232.43V386.92H2233.61V399.19H2234.79V401.30H2235.97V397.59H2237.15V379.60H2238.33V380.17H2239.51V383.14H2240.69V389.51H2241.87V392.10H2243.05V390.42H2244.23V384.10H2245.41V382.07H2246.59V381.58H2247.78V381.50H2248.96V387.61H2250.14V397.80H2251.32V397.70H2252.50V395.64H2253.68V381.66H2254.86V379.02H2256.04V378.90H2257.22V381.72H2258.40V392.61H2259.58V393.30H2260.76V391.32H2261.94V387.12H2263.12V384.50H2264.30V384.90H2265.48V390.14H2266.67V394.80H2267.85V391.74H2269.03V381.73H2270.21V381.09H2271.39V376.20H2272.57V378.13H2273.75V386.80H2274.93V398.20H2276.11V398.09H2277.29V397.41H2278.47V382.95H2279.65V379.20H2280.83V380.27H2282.01V387.12H2283.19V394.60H2284.37V397.10H2285.55V390.28H2286.74V383.72H2287.92V380.40H2289.10V380.73H2290.28V382.00H2291.46V385.01H2292.64V388.52H2293.82V392.24H2295.00V395.20H2296.18V394.86H2297.36V394.19H2298.54V393.35" fill="none" stroke="#f00" stroke-width="2" stroke-linejoin="miter" stroke-miterlimit="2"/>
<polyline points="439.5,391.5 472.5,543.5 681.8,543.5" fill="none" stroke="#000" stroke-width="1.2"/>
<circle cx="439.5" cy="391.5" r="3.9" fill="#fff" stroke="#000" stroke-width="1.1"/>
<text x="472.00 492.00 514.00 524.00 547.00 559.00 577.00 585.00 595.00 615.00 625.00 646.00 663.00" y="572" class="an">SR:OrbitX:Avg</text>
<text x="472.00 489.00 506.00 516.00 533.00 550.00 558.00 566.00 576.00 593.00 601.00 618.00 635.00" y="608" class="an">02:58, -0.023</text>
<polyline points="692.5,389.5 727.5,248.5 936.8,248.5" fill="none" stroke="#000" stroke-width="1.2"/>
<circle cx="692.5" cy="389.5" r="3.9" fill="#fff" stroke="#000" stroke-width="1.1"/>
<text x="727.00 747.00 769.00 779.00 802.00 814.00 832.00 840.00 850.00 870.00 880.00 901.00 918.00" y="205" class="an">SR:OrbitX:Avg</text>
<text x="727.00 744.00 761.00 771.00 788.00 805.00 813.00 821.00 831.00 848.00 856.00 873.00 890.00" y="241" class="an">03:05, -0.023</text>
<polyline points="856.5,388.5 895.5,540.5 1104.5,540.5" fill="none" stroke="#000" stroke-width="1.2"/>
<circle cx="856.5" cy="388.5" r="3.9" fill="#fff" stroke="#000" stroke-width="1.1"/>
<text x="895.00 915.00 937.00 947.00 970.00 982.00 1000.00 1008.00 1018.00 1038.00 1048.00 1069.00 1086.00" y="569" class="an">SR:OrbitX:Avg</text>
<text x="895.00 912.00 929.00 939.00 956.00 973.00 981.00 989.00 999.00 1016.00 1024.00 1041.00 1058.00" y="605" class="an">03:10, -0.022</text>
</svg>
</body></html>
